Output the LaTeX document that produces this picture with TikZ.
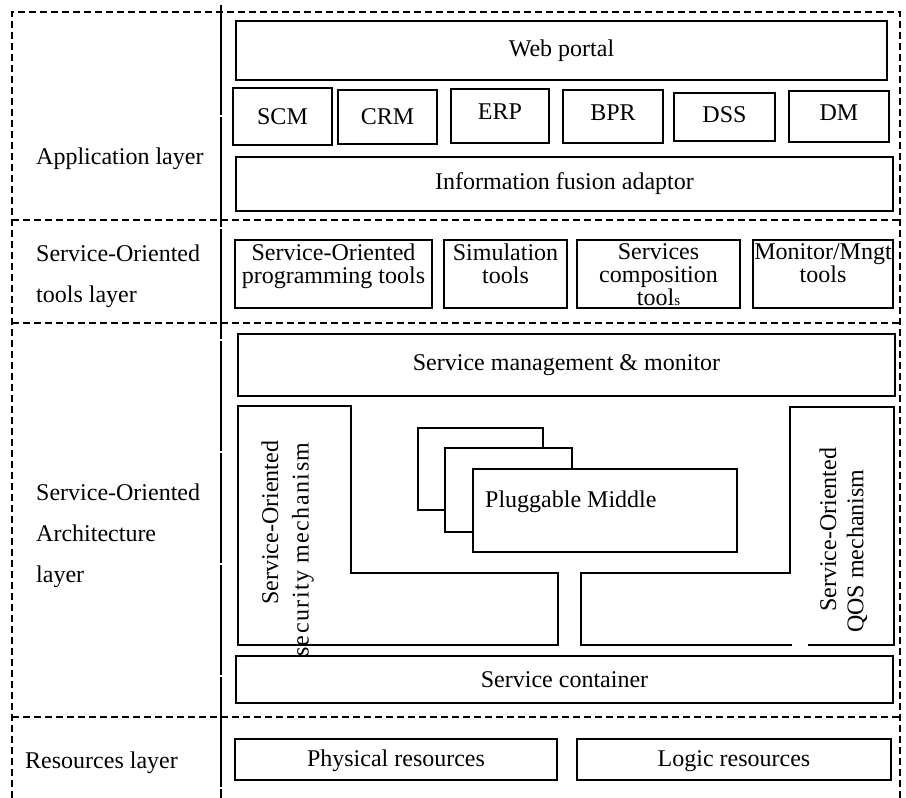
\documentclass[tikz,border=0pt]{standalone}
\usepackage{fontspec}
\setmainfont{Liberation Serif}
\usetikzlibrary{positioning}

\begin{document}
\begin{tikzpicture}[x=1pt,y=-1pt,
every node/.style={font=\fontsize{24}{23}\selectfont,inner sep=0pt},
box/.style={draw,line width=2pt,fill=white},
layer/.style={line width=1.8pt,dash pattern=on 7pt off 4pt},
lbl/.style={align=left,anchor=west,font=\fontsize{24}{41}\selectfont}]
\useasboundingbox (0,0) rectangle (906,798);

% layer frame
\draw[layer] (12,798) -- (12,12) -- (900,12) -- (900,798);
\draw[layer] (12,220) -- (900,220);
\draw[layer] (12,323) -- (900,323);
\draw[layer] (12,717) -- (900,717);
\draw[line width=1.8pt,dash pattern=on 110pt off 2pt] (221,5) -- (221,798);

% layer names
\node[lbl] (applayer) at (36,159) {Application layer};
\node[lbl] (toollayer) at (36,276) {Service-Oriented\\tools layer};
\node[lbl] (soalayer) at (36,536) {Service-Oriented\\Architecture\\layer};
\node[lbl] (reslayer) at (25,763) {Resources layer};

% application layer
\node[box,minimum width=651pt,minimum height=59pt] (web) at (561.5,50.5) {Web portal};
\node[box,minimum width=99pt,minimum height=57pt] (scm) at (282.5,116.5) {SCM};
\node[box,minimum width=99pt,minimum height=54pt] (crm) at (387.5,117) {CRM};
\node[box,minimum width=98pt,minimum height=54pt,text depth=8pt] (erp) at (500,116) {ERP};
\node[box,minimum width=100pt,minimum height=53pt,text depth=8pt] (bpr) at (613,116.5) {BPR};
\node[box,minimum width=101pt,minimum height=48pt,text depth=5pt] (dss) at (724.5,117) {DSS};
\node[box,minimum width=100pt,minimum height=51pt,text depth=7pt] (dm) at (839,116.5) {DM};
\node[box,minimum width=657pt,minimum height=54pt] (fusion) at (564.5,184) {Information fusion adaptor};

% tools layer
\node[box,minimum width=197pt,minimum height=68pt] (sotools) at (333.5,274) {};
\node[box,minimum width=123pt,minimum height=68pt] (simtools) at (505.5,274) {};
\node[box,minimum width=163pt,minimum height=68pt] (comptools) at (658.5,274) {};
\node[box,minimum width=140pt,minimum height=68pt] (montools) at (823,274) {};
\node[align=center,below=4.5pt of sotools.north] (sotext) {Service-Oriented\\programming tools};
\node[align=center,below=4.5pt of simtools.north] (simtext) {Simulation\\tools};
\node[align=center,below=4.5pt of comptools.north] (comptext) {Services\\composition\\tool{\fontsize{15}{15}\selectfont s}};
\node[align=center,below=4.5pt of montools.north] (montext) {Monitor/Mngt\\tools};

% architecture layer
\node[box,minimum width=657pt,minimum height=62pt] (mgmt) at (566.5,365) {Service management \& monitor};
\draw[line width=2pt] (238,406) -- (351,406) -- (351,573) -- (558,573) -- (558,645) -- (238,645) -- cycle;
\draw[line width=2pt] (790,407) -- (894,407) -- (894,645) -- (581,645) -- (581,573) -- (790,573) -- cycle;
\fill[white] (792,643) rectangle (808,647);

\node[box,minimum width=125pt,minimum height=82pt] (plugback) at (480.5,469) {};
\node[box,minimum width=127pt,minimum height=84pt] (plugmid) at (508.5,490) {};
\node[box,minimum width=264pt,minimum height=83pt] (plugfront) at (605,510.5) {};
\node[anchor=west] (plugtext) at (485,502) {Pluggable Middle};

\node[box,minimum width=657pt,minimum height=47pt] (container) at (564.5,679.5) {Service container};

\node[rotate=90,anchor=west] (secline1) at (270,605) {Service-Oriented};
\node[rotate=90,anchor=west,font=\fontsize{24}{23}\selectfont\addfontfeatures{LetterSpace=6}] (secline2) at (303,657) {security mechanism};
\node[rotate=90,anchor=west] (qosline1) at (828,612) {Service-Oriented};
\node[rotate=90,anchor=west] (qosline2) at (857,633) {QOS mechanism};

% resources layer
\node[box,minimum width=322pt,minimum height=41pt,text depth=2pt] (physical) at (396,759.5) {Physical resources};
\node[box,minimum width=314pt,minimum height=41pt,text depth=2pt] (logic) at (734,759.5) {Logic resources};
\end{tikzpicture}
\end{document}
